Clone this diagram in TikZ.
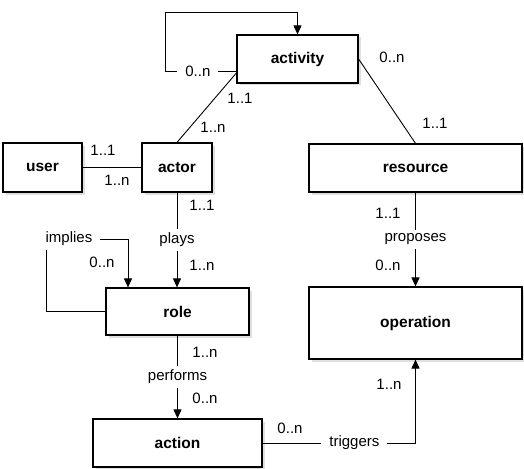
\documentclass[tikz,border=0pt]{standalone}
\usepackage{fontspec}
\setmainfont{Liberation Sans}
\usetikzlibrary{arrows.meta,shadows}

\begin{document}
\begin{tikzpicture}[x=1pt,y=-1pt,
    entity/.style={draw, line width=1.2pt, fill=white, inner sep=0pt,
        font=\fontsize{15.5}{18}\selectfont\bfseries,
        drop shadow={shadow xshift=2.5pt,shadow yshift=-2.5pt,fill=black!25}},
    link/.style={line width=0.9pt},
    arrow/.style={link, -{Triangle[length=9pt,width=8pt]}},
    verb/.style={fill=white, inner xsep=8pt, inner ysep=4pt, font=\fontsize{15}{18}\selectfont},
    mult/.style={inner sep=0pt, font=\fontsize{15}{18}\selectfont}]
    \useasboundingbox (0,0) rectangle (524,468);

    % --- entities ---
    \node[entity, minimum width=121pt, minimum height=48pt] (activity) at (297.5,59) {activity};
    \node[entity, minimum width=79pt, minimum height=49pt] (user) at (42.5,167.5) {user};
    \node[entity, minimum width=70pt, minimum height=49pt] (actor) at (177,167.5) {actor};
    \node[entity, minimum width=213pt, minimum height=48pt] (resource) at (415.5,168) {resource};
    \node[entity, minimum width=143pt, minimum height=47pt] (role) at (177.5,311.5) {role};
    \node[entity, minimum width=213pt, minimum height=72pt] (operation) at (415.5,323) {operation};
    \node[entity, minimum width=169pt, minimum height=48pt] (action) at (177.5,443) {action};

    % --- activity links ---
    \coordinate (loop) at (165,12);
    \draw[arrow] ([yshift=-12pt]activity.west) -| node[verb, pos=0.27] (loopn) {0..n} (loop) -| (activity.north);
    \draw[link] ([yshift=-14pt]activity.west) -- (actor.north);
    \node[mult] (aa1) at (240,98) {1..1};
    \node[mult] (aan) at (213,127) {1..n};
    \draw[link] (activity.east) -- (resource.north);
    \node[mult] (ar0) at (392,57) {0..n};
    \node[mult] (ar1) at (435,123) {1..1};

    % --- user / actor ---
    \draw[link] (user.east) -- (actor.west);
    \node[mult] (ua1) at (103,150) {1..1};
    \node[mult] (uan) at (117,180) {1..n};

    % --- plays ---
    \draw[arrow] (actor.south) -- node[verb] (plays) {plays} (actor.south |- role.north);
    \node[mult] (pl1) at (202,205) {1..1};
    \node[mult] (pln) at (202,265) {1..n};

    % --- implies ---
    \coordinate (implyturn) at (46,239);
    \draw[arrow] (role.west) -| (implyturn) -| ([xshift=-49.5pt]role.north);
    \node[verb] (implies) at (69,239) {implies};
    \node[mult] (imn) at (102,262) {0..n};

    % --- performs ---
    \draw[arrow] (role.south) -- node[verb] (performs) {performs} (action.north);
    \node[mult] (pfn) at (205,352) {1..n};
    \node[mult] (pf0) at (205,398) {0..n};

    % --- proposes ---
    \draw[arrow] (resource.south) -- node[verb] (proposes) {proposes} (operation.north);
    \node[mult] (pr1) at (388,213) {1..1};
    \node[mult] (pr0) at (388,265) {0..n};

    % --- triggers ---
    \draw[arrow] (action.east) -| node[verb, pos=0.3] (triggers) {triggers} (operation.south);
    \node[mult] (tr0) at (290,428) {0..n};
    \node[mult] (trn) at (389,384) {1..n};
\end{tikzpicture}
\end{document}
